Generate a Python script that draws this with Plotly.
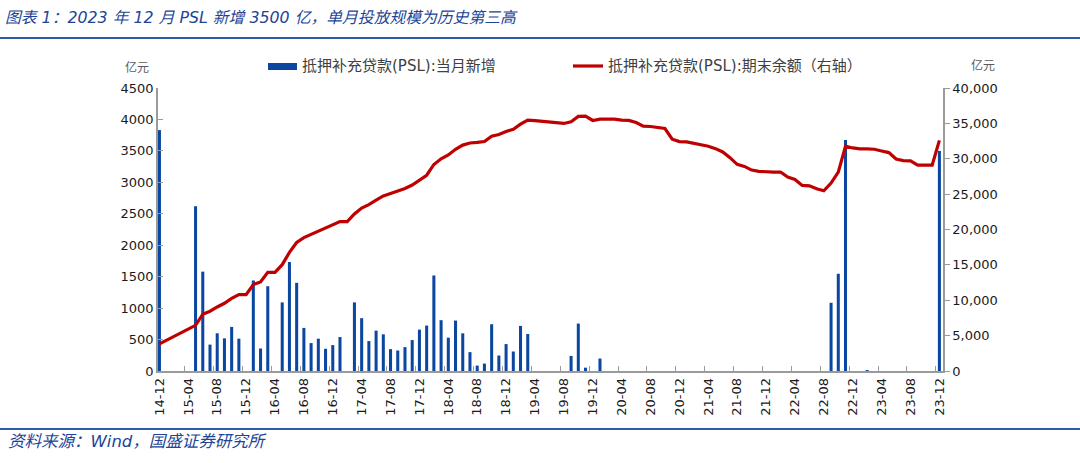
import plotly.graph_objects as go
import pandas as pd

# categories: monthly, 2014-12 .. 2023-12
months = [p.strftime("%y-%m") for p in pd.period_range("2014-12", "2023-12", freq="M")]

# PSL new issuance per month (亿元), left axis
psl_new = [3831, 0, 0, 0, 0, 2620, 1580, 420, 600, 519, 701, 514,
           0, 1439, 358, 1348, 0, 1091, 1733, 1402, 685, 444, 514, 353,
           412, 540, 0, 1091, 840, 476, 642, 583, 348, 326, 380, 492,
           658, 722, 1519, 808, 530, 802, 599, 300, 86, 118, 744, 246,
           428, 310, 717, 588, 0, 0, 0, 0, 0, 240, 754, 53,
           0, 198, 0, 0, 0, 0, 0, 0, 0, 0, 0, 0,
           0, 0, 0, 0, 0, 0, 0, 0, 0, 0, 0, 0,
           0, 0, 0, 0, 0, 0, 0, 0, 0, 1085, 1546, 3675,
           0, 0, 10, 0, 0, 0, 0, 0, 0, 0, 0, 0,
           3500]

# PSL outstanding balance (亿元), right axis
psl_balance = [3831, None, None, None, None, 6450, 8030, 8450, 9050, 9570, 10270, 10790,
               10790, 12230, 12590, 13940, 13940, 15030, 16760, 18160, 18850, 19290, 19800, 20160,
               20570, 21110, 21110, 22200, 23040, 23520, 24160, 24740, 25090, 25420, 25800, 26290,
               26950, 27670, 29190, 30000, 30530, 31330, 31930, 32230, 32320, 32440, 33180, 33430,
               33860, 34170, 34890, 35470, 35400, 35320, 35150, 35050, 34990, 35230, 35980, 36030,
               35410, 35600, 35600, 35600, 35460, 35420, 35130, 34600, 34560, 34370, 34270, 32760,
               32430, 32380, 32190, 32000, 31760, 31430, 30960, 30160, 29210, 28920, 28400, 28220,
               28120, 28120, 28120, 27410, 27080, 26230, 26180, 25760, 25470, 26560, 28100, 31780,
               31530, 31390, 31390, 31340, 31100, 30870, 29970, 29740, 29690, 29110, 29100, 29100,
               32600]

series_names = ["抵押补充贷款(PSL):当月新增", "抵押补充贷款(PSL):期末余额（右轴）"]

left_ticks = list(range(0, 4501, 500))
right_ticks = list(range(0, 40001, 5000))

x = list(range(len(months)))
tick_idx = x[::4]
tick_txt = [months[i] for i in tick_idx]

BLUE = "#0B47A1"
RED = "#C00000"
AXIS = "#9A9A9A"
TXT = "#1a1a1a"
TITLE_BLUE = "#1D4496"
FONT = "DejaVu Sans, Noto Sans CJK SC, sans-serif"

L, R, T, B = 158, 137, 88, 92
W, H = 1080, 463
PW, PH = W - L - R, H - T - B


def px(xp):  # pixel x -> paper x
    return (xp - L) / PW


def py(yp):  # pixel y -> paper y
    return 1 - (yp - T) / PH


fig = go.Figure()
fig.add_trace(go.Bar(
    x=x, y=psl_new, name=series_names[0],
    marker=dict(color=BLUE, line=dict(width=0)), width=0.42, yaxis="y",
))
fig.add_trace(go.Scatter(
    x=x, y=psl_balance, name=series_names[1],
    mode="lines", line=dict(color=RED, width=3.2), connectgaps=True, yaxis="y2",
))

fig.update_layout(
    width=W, height=H,
    margin=dict(l=L, r=R, t=T, b=B),
    paper_bgcolor="white", plot_bgcolor="white",
    font=dict(family=FONT, size=13, color=TXT),
    showlegend=False,
    xaxis=dict(
        range=[-0.2, 108.5], tickmode="array", tickvals=tick_idx, ticktext=tick_txt,
        tickangle=-90, ticks="", showgrid=False, zeroline=False,
        showline=True, linecolor=AXIS, linewidth=1.5,
        tickfont=dict(size=13, color=TXT),
        minor=dict(tickmode="array", tickvals=[i - 0.5 for i in tick_idx if i > 0],
                   ticks="inside", ticklen=5, tickcolor=AXIS, tickwidth=1, showgrid=False),
    ),
    yaxis=dict(
        range=[0, 4500], tickmode="array", tickvals=left_ticks,
        ticks="inside", ticklen=5, tickcolor=AXIS, showgrid=False, zeroline=False,
        showline=True, linecolor=AXIS, linewidth=1.5, tickfont=dict(size=13, color=TXT),
    ),
    yaxis2=dict(
        range=[0, 40000], overlaying="y", side="right", tickmode="array",
        tickvals=right_ticks, tickformat=",d",
        ticks="outside", ticklen=5, tickcolor=AXIS, showgrid=False, zeroline=False,
        showline=True, linecolor=AXIS, linewidth=1.5, tickfont=dict(size=13, color=TXT),
    ),
)

# custom legend
fig.add_shape(type="rect", xref="paper", yref="paper", x0=px(268), x1=px(297),
              y0=py(70), y1=py(63), fillcolor=BLUE, line=dict(width=0))
fig.add_annotation(xref="paper", yref="paper", x=px(300), y=py(66), xanchor="left",
                   yanchor="middle", showarrow=False, text=series_names[0],
                   font=dict(size=15, color="#404040", family=FONT))
fig.add_shape(type="line", xref="paper", yref="paper", x0=px(573), x1=px(603),
              y0=py(66), y1=py(66), line=dict(color=RED, width=3.2))
fig.add_annotation(xref="paper", yref="paper", x=px(606), y=py(66), xanchor="left",
                   yanchor="middle", showarrow=False, text=series_names[1],
                   font=dict(size=15, color="#404040", family=FONT))

# title, rules, units and source
fig.add_annotation(xref="paper", yref="paper", x=px(3), y=py(17),
                   xanchor="left", yanchor="middle", showarrow=False,
                   text="<i>图表 1：2023 年 12 月 PSL 新增 3500 亿，单月投放规模为历史第三高</i>",
                   font=dict(size=15.8, color=TITLE_BLUE, family=FONT))
fig.add_shape(type="line", xref="paper", yref="paper", x0=px(0), x1=px(W),
              y0=py(38), y1=py(38), line=dict(color="#2A5CAA", width=2))
fig.add_shape(type="line", xref="paper", yref="paper", x0=px(0), x1=px(W),
              y0=py(429), y1=py(429), line=dict(color="#2A5CAA", width=2))
fig.add_annotation(xref="paper", yref="paper", x=px(6), y=py(441),
                   xanchor="left", yanchor="middle", showarrow=False,
                   text="<i>资料来源：Wind，国盛证券研究所</i>",
                   font=dict(size=16.5, color=TITLE_BLUE, family=FONT))
fig.add_annotation(xref="paper", yref="paper", x=px(137), y=py(68),
                   xanchor="center", yanchor="middle", showarrow=False,
                   text="亿元", font=dict(size=12, color="#595959", family=FONT))
fig.add_annotation(xref="paper", yref="paper", x=px(983), y=py(66),
                   xanchor="center", yanchor="middle", showarrow=False,
                   text="亿元", font=dict(size=12, color="#595959", family=FONT))

fig.write_html("out.html", config={"displayModeBar": False},
               post_script="document.body.style.margin='0';document.body.style.overflow='hidden';")
